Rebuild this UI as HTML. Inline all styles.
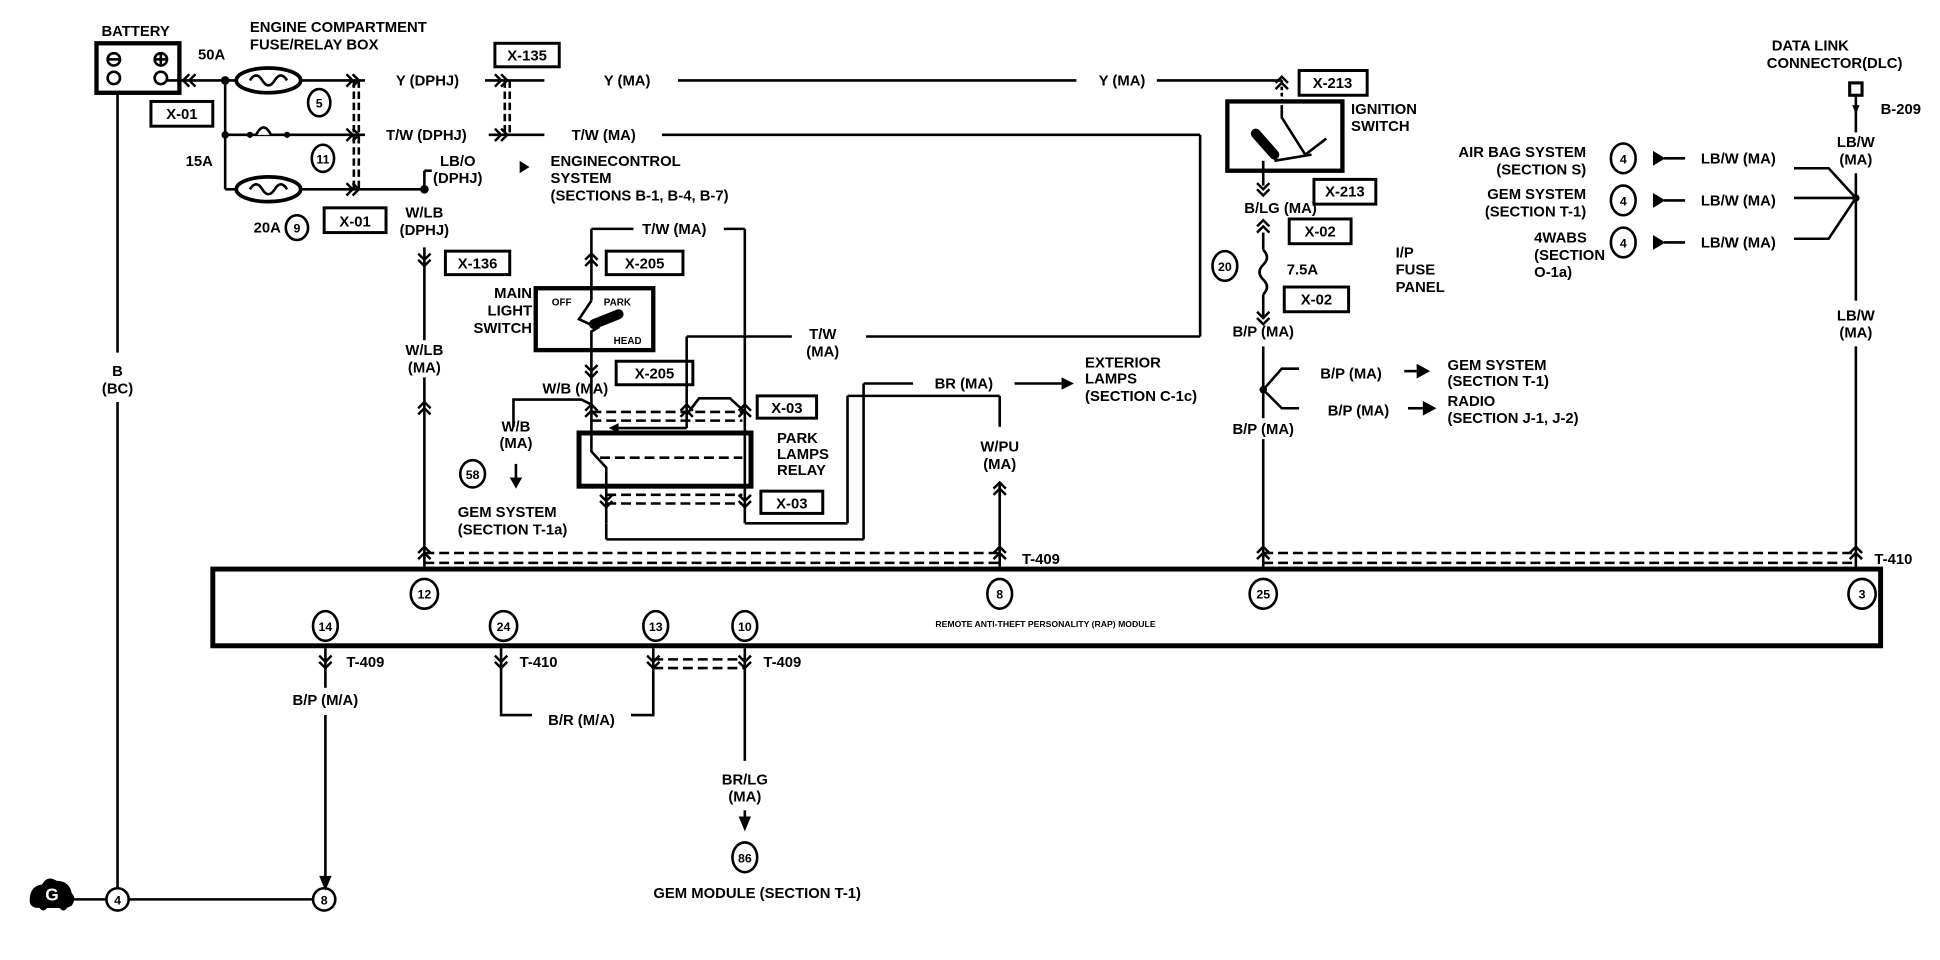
<!DOCTYPE html>
<html><head><meta charset="utf-8"><style>
html,body{margin:0;padding:0;background:#fff;}
svg{display:block;}
text{font-family:"Liberation Sans Narrow","Liberation Sans",sans-serif;font-size:12px;fill:#000;font-weight:bold;}
.c{text-anchor:middle;}
.r{text-anchor:end;}
</style></head><body>
<svg width="1940" height="960" viewBox="0 0 1568 776" preserveAspectRatio="none" xmlns="http://www.w3.org/2000/svg">
<defs>
<g id="cu" fill="none" stroke="#000" stroke-width="2"><path d="M-5 5 L0 0 L5 5 M-5 10 L0 5 L5 10"/></g>
<g id="cd" fill="none" stroke="#000" stroke-width="2"><path d="M-5 -5 L0 0 L5 -5 M-5 -10 L0 -5 L5 -10"/></g>
<g id="cr" fill="none" stroke="#000" stroke-width="2"><path d="M-5 -5 L0 0 L-5 5 M-10 -5 L-5 0 L-10 5"/></g>
<g id="cl" fill="none" stroke="#000" stroke-width="2"><path d="M5 -5 L0 0 L5 5 M10 -5 L5 0 L10 5"/></g>
</defs>
<g fill="none" stroke="#000" stroke-width="2.1">
<!-- battery -->
<rect x="78" y="35" width="67" height="40" stroke-width="3.5"/>
<circle cx="92" cy="48" r="5"/><line x1="88" y1="48" x2="96" y2="48"/>
<circle cx="130" cy="48" r="5"/><line x1="126" y1="48" x2="134" y2="48"/><line x1="130" y1="44" x2="130" y2="52"/>
<circle cx="92" cy="63" r="5"/><circle cx="130" cy="63" r="5"/>
<line x1="95" y1="75" x2="95" y2="285"/><line x1="95" y1="325" x2="95" y2="718"/>
<!-- ground -->
<line x1="50" y1="727" x2="86" y2="727"/><line x1="104" y1="727" x2="253" y2="727"/>
<circle cx="95" cy="727" r="9"/><circle cx="262" cy="727" r="9"/>
<line x1="263" y1="578" x2="263" y2="710"/>
<!-- fuse box wires -->
<line x1="135" y1="65" x2="295" y2="65"/>
<line x1="182" y1="65" x2="182" y2="153"/>
<line x1="182" y1="109" x2="295" y2="109"/>
<line x1="182" y1="153" x2="343" y2="153"/>
<ellipse cx="217" cy="65" rx="26" ry="10" stroke-width="3" fill="#fff"/>
<ellipse cx="217" cy="153" rx="26" ry="10" stroke-width="3" fill="#fff"/>
<path d="M202 65 q5 -8 10 0 q5 8 10 0 q5 -8 10 0"/>
<path d="M202 153 q5 -8 10 0 q5 8 10 0 q5 -8 10 0"/>
<path d="M207 109 q6 -12 12 0" fill="#fff"/>
<line x1="286" y1="65" x2="286" y2="153" stroke-dasharray="6 3"/>
<line x1="290" y1="65" x2="290" y2="153" stroke-dasharray="6 3"/>
<ellipse cx="258" cy="83" rx="9" ry="11"/><ellipse cx="261" cy="128" rx="9" ry="11"/><ellipse cx="240" cy="184" rx="9" ry="10"/>
<rect x="122" y="82" width="50" height="20" stroke-width="2.4"/>
<rect x="262" y="168" width="50" height="20" stroke-width="2.4"/>
<line x1="343" y1="138" x2="343" y2="153"/><line x1="343" y1="138" x2="349" y2="138"/>
<!-- Y wire -->
<line x1="392" y1="65" x2="440" y2="65"/>
<line x1="548" y1="65" x2="870" y2="65"/>
<line x1="935" y1="65" x2="1036" y2="65"/>
<line x1="1036" y1="65" x2="1036" y2="85" stroke-dasharray="3 2"/>
<rect x="400" y="35" width="52" height="19" stroke-width="2.4"/>
<line x1="408" y1="65" x2="408" y2="109" stroke-dasharray="6 3"/>
<line x1="412" y1="65" x2="412" y2="109" stroke-dasharray="6 3"/>
<!-- T/W wire -->
<line x1="395" y1="109" x2="440" y2="109"/>
<line x1="535" y1="109" x2="970" y2="109"/>
<line x1="970" y1="109" x2="970" y2="272"/>
<line x1="970" y1="272" x2="700" y2="272"/>
<line x1="640" y1="272" x2="555" y2="272"/>
<line x1="555" y1="272" x2="555" y2="346"/>
<line x1="555" y1="346" x2="500" y2="346"/>
<!-- W/LB -->
<line x1="343" y1="200" x2="343" y2="275"/>
<line x1="343" y1="305" x2="343" y2="458"/>
<rect x="360" y="203" width="52" height="19" stroke-width="2.4"/>
<!-- main light switch -->
<line x1="478" y1="185" x2="512" y2="185"/>
<line x1="585" y1="185" x2="602" y2="185"/>
<line x1="602" y1="185" x2="602" y2="405"/>
<line x1="478" y1="185" x2="478" y2="243"/>
<rect x="433" y="233" width="95" height="50" stroke-width="3.5"/>
<path d="M478 243 L468 258 L483 265 L478 268 L478 310"/>
<path d="M480 262 L500 254" stroke-width="8" stroke-linecap="round"/>
<rect x="490" y="203" width="62" height="19" stroke-width="2.4"/>
<rect x="498" y="292" width="62" height="19" stroke-width="2.4"/>
<!-- relay -->
<line x1="478" y1="310" x2="478" y2="350"/>
<path d="M415 345 L415 323 L470 323 L478 327"/>
<line x1="478" y1="333" x2="600" y2="333" stroke-dasharray="8 4"/>
<line x1="478" y1="340" x2="600" y2="340" stroke-dasharray="8 4"/>
<path d="M555 335 L565 322 L590 322 L602 333"/>
<rect x="468" y="350" width="139" height="43" stroke-width="4"/>
<path d="M478 350 L478 365 L490 378 L490 423"/>
<line x1="485" y1="370" x2="600" y2="370" stroke-dasharray="8 4"/>
<line x1="490" y1="400" x2="600" y2="400" stroke-dasharray="8 4"/>
<line x1="490" y1="407" x2="600" y2="407" stroke-dasharray="8 4"/>
<line x1="490" y1="423" x2="490" y2="436"/>
<line x1="490" y1="436" x2="698" y2="436"/>
<line x1="698" y1="436" x2="698" y2="310"/>
<line x1="698" y1="310" x2="738" y2="310"/>
<line x1="820" y1="310" x2="858" y2="310"/>
<line x1="602" y1="405" x2="602" y2="423"/>
<line x1="602" y1="423" x2="685" y2="423"/>
<line x1="685" y1="423" x2="685" y2="320"/>
<line x1="685" y1="320" x2="808" y2="320"/>
<line x1="808" y1="320" x2="808" y2="345"/>
<line x1="808" y1="390" x2="808" y2="458"/>
<rect x="612" y="320" width="48" height="18" stroke-width="2.4"/>
<rect x="615" y="397" width="50" height="18" stroke-width="2.4"/>
<line x1="417" y1="375" x2="417" y2="388"/>
<ellipse cx="382" cy="383" rx="10" ry="11"/>
<!-- T-409 / T-410 dashed -->
<line x1="343" y1="447" x2="808" y2="447" stroke-dasharray="8 4"/>
<line x1="343" y1="455" x2="808" y2="455" stroke-dasharray="8 4"/>
<line x1="1021" y1="447" x2="1500" y2="447" stroke-dasharray="8 4"/>
<line x1="1021" y1="455" x2="1500" y2="455" stroke-dasharray="8 4"/>
<!-- module -->
<rect x="172" y="460" width="1348" height="62" stroke-width="4"/>
<ellipse cx="343" cy="480" rx="11" ry="12"/><ellipse cx="808" cy="480" rx="10" ry="12"/>
<ellipse cx="1021" cy="480" rx="11" ry="12"/><ellipse cx="1505" cy="480" rx="11" ry="12"/>
<ellipse cx="263" cy="506" rx="10" ry="12"/><ellipse cx="407" cy="506" rx="11" ry="12"/>
<ellipse cx="530" cy="506" rx="10" ry="12"/><ellipse cx="602" cy="506" rx="10" ry="12"/>
<!-- below module -->
<line x1="263" y1="524" x2="263" y2="556"/>
<path d="M405 524 L405 578 L430 578"/>
<path d="M510 578 L528 578 L528 524"/>
<line x1="528" y1="533" x2="602" y2="533" stroke-dasharray="8 4"/>
<line x1="528" y1="540" x2="602" y2="540" stroke-dasharray="8 4"/>
<line x1="602" y1="524" x2="602" y2="615"/>
<line x1="602" y1="655" x2="602" y2="662"/>
<ellipse cx="602" cy="693" rx="10" ry="12"/>
<!-- ignition -->
<rect x="992" y="82" width="93" height="56" stroke-width="3.5"/>
<path d="M1036 85 L1036 95 L1055 125 L1072 112"/>
<path d="M1015 108 L1030 125" stroke-width="8" stroke-linecap="round"/>
<path d="M1030 130 L1060 125"/>
<path d="M1021 130 L1021 150"/>
<rect x="1050" y="57" width="55" height="20" stroke-width="2.4"/>
<rect x="1062" y="145" width="50" height="20" stroke-width="2.4"/>
<rect x="1042" y="177" width="50" height="20" stroke-width="2.4"/>
<rect x="1038" y="232" width="52" height="20" stroke-width="2.4"/>
<line x1="1021" y1="188" x2="1021" y2="202"/>
<path d="M1021 202 q6 6 0 12 q-6 6 0 12 q6 6 0 12"/>
<line x1="1021" y1="238" x2="1021" y2="258"/>
<ellipse cx="990" cy="215" rx="10" ry="12"/>
<line x1="1021" y1="280" x2="1021" y2="338"/>
<line x1="1021" y1="355" x2="1021" y2="458"/>
<path d="M1050 298 L1036 298 L1021 315 L1036 330 L1050 330"/>
<line x1="1135" y1="300" x2="1145" y2="300"/>
<line x1="1138" y1="330" x2="1150" y2="330"/>
<!-- DLC -->
<rect x="1495" y="67" width="10" height="10" stroke-width="2.5"/>
<line x1="1500" y1="77" x2="1500" y2="107"/>
<line x1="1500" y1="140" x2="1500" y2="243"/>
<line x1="1500" y1="280" x2="1500" y2="458"/>
<path d="M1450 136 L1478 136 L1500 160 L1478 193 L1450 193"/>
<line x1="1450" y1="160" x2="1500" y2="160"/>
<line x1="1345" y1="128" x2="1362" y2="128"/>
<line x1="1345" y1="162" x2="1362" y2="162"/>
<line x1="1345" y1="196" x2="1362" y2="196"/>
<ellipse cx="1312" cy="128" rx="10" ry="12"/><ellipse cx="1312" cy="162" rx="10" ry="12"/><ellipse cx="1312" cy="196" rx="10" ry="12"/>
</g>
<g fill="#000">
<circle cx="182" cy="65" r="3.5"/><circle cx="182" cy="109" r="3"/><circle cx="202" cy="109" r="2.5"/><circle cx="232" cy="109" r="2.5"/>
<circle cx="343" cy="153" r="3.5"/><circle cx="1021" cy="315" r="3"/><circle cx="1500" cy="160" r="3"/>
<path d="M420 130 L428 135 L420 140Z"/>
<path d="M858 305 L868 310 L858 315Z"/>
<path d="M1145 294 L1156 300 L1145 306Z"/>
<path d="M1150 324 L1161 330 L1150 336Z"/>
<path d="M412 386 L417 395 L422 386Z"/>
<path d="M597 660 L602 672 L607 660Z"/>
<path d="M258 708 L263 720 L268 708Z"/>
<path d="M500 342 L492 346 L500 350Z"/>
<path d="M1336 122 L1346 128 L1336 134Z"/><path d="M1336 156 L1346 162 L1336 168Z"/><path d="M1336 190 L1346 196 L1336 202Z"/>
<path d="M1497 85 L1500 92 L1503 85Z"/>
<path d="M24 728 q0 -12 10 -13 q4 -8 12 -3 q10 0 12 10 q4 4 0 10 l-4 2 q-2 4 -6 0 l-10 0 q-3 4 -6 0 q-8 0 -8 -6Z"/>
</g>
<use href="#cl" x="148" y="65"/>
<use href="#cr" x="290" y="65"/><use href="#cr" x="290" y="109"/><use href="#cr" x="290" y="153"/>
<use href="#cr" x="410" y="65"/><use href="#cr" x="410" y="109"/>
<use href="#cd" x="343" y="215"/><use href="#cu" x="343" y="325"/><use href="#cu" x="343" y="442"/>
<use href="#cu" x="478" y="205"/><use href="#cd" x="478" y="305"/>
<use href="#cu" x="478" y="327"/><use href="#cu" x="555" y="327"/><use href="#cu" x="602" y="327"/>
<use href="#cd" x="490" y="410"/><use href="#cd" x="602" y="410"/>
<use href="#cu" x="808" y="390"/><use href="#cu" x="808" y="442"/>
<use href="#cu" x="1021" y="442"/><use href="#cu" x="1500" y="442"/>
<use href="#cd" x="263" y="540"/><use href="#cd" x="405" y="540"/><use href="#cd" x="528" y="540"/><use href="#cd" x="602" y="540"/>
<use href="#cd" x="1021" y="158"/><use href="#cu" x="1021" y="178"/><use href="#cd" x="1021" y="262"/>
<use href="#cu" x="1036" y="62"/>

<text x="82" y="29">BATTERY</text>
<text x="202" y="26">ENGINE COMPARTMENT</text>
<text x="202" y="40">FUSE/RELAY BOX</text>
<text x="160" y="48">50A</text>
<text x="147" y="96" class="c">X-01</text>
<text x="150" y="134">15A</text>
<text x="205" y="188">20A</text>
<text x="287" y="183" class="c">X-01</text>
<text x="258" y="87" class="c" style="font-size:10px">5</text>
<text x="261" y="132" class="c" style="font-size:10px">11</text>
<text x="240" y="188" class="c" style="font-size:10px">9</text>
<text x="95" y="304" class="c">B</text><text x="95" y="318" class="c">(BC)</text>
<text x="320" y="69">Y (DPHJ)</text>
<text x="426" y="49" class="c">X-135</text>
<text x="488" y="69">Y (MA)</text>
<text x="888" y="69">Y (MA)</text>
<text x="312" y="113">T/W (DPHJ)</text>
<text x="462" y="113">T/W (MA)</text>
<text x="370" y="134" class="c">LB/O</text><text x="370" y="148" class="c">(DPHJ)</text>
<text x="445" y="134">ENGINECONTROL</text>
<text x="445" y="148">SYSTEM</text>
<text x="445" y="162">(SECTIONS B-1, B-4, B-7)</text>
<text x="343" y="176" class="c">W/LB</text><text x="343" y="190" class="c">(DPHJ)</text>
<text x="386" y="217" class="c">X-136</text>
<text x="343" y="287" class="c">W/LB</text><text x="343" y="301" class="c">(MA)</text>
<text x="545" y="189" class="c">T/W (MA)</text>
<text x="521" y="217" class="c">X-205</text>
<text x="430" y="241" class="r">MAIN</text><text x="430" y="255" class="r">LIGHT</text><text x="430" y="269" class="r">SWITCH</text>
<text x="446" y="247" style="font-size:8px">OFF</text>
<text x="488" y="247" style="font-size:8px">PARK</text>
<text x="496" y="278" style="font-size:8px">HEAD</text>
<text x="529" y="306" class="c">X-205</text>
<text x="465" y="318" class="c">W/B (MA)</text>
<text x="665" y="274" class="c">T/W</text><text x="665" y="288" class="c">(MA)</text>
<text x="779" y="314" class="c">BR (MA)</text>
<text x="877" y="297">EXTERIOR</text><text x="877" y="310">LAMPS</text><text x="877" y="324">(SECTION C-1c)</text>
<text x="417" y="349" class="c">W/B</text><text x="417" y="362" class="c">(MA)</text>
<text x="382" y="387" class="c" style="font-size:10px">58</text>
<text x="370" y="418">GEM SYSTEM</text><text x="370" y="432">(SECTION T-1a)</text>
<text x="636" y="334" class="c">X-03</text>
<text x="628" y="358">PARK</text><text x="628" y="371">LAMPS</text><text x="628" y="384">RELAY</text>
<text x="640" y="411" class="c">X-03</text>
<text x="808" y="365" class="c">W/PU</text><text x="808" y="379" class="c">(MA)</text>
<text x="826" y="456">T-409</text>
<text x="1515" y="456">T-410</text>
<text x="343" y="484" class="c" style="font-size:10px">12</text>
<text x="808" y="484" class="c" style="font-size:10px">8</text>
<text x="1021" y="484" class="c" style="font-size:10px">25</text>
<text x="1505" y="484" class="c" style="font-size:10px">3</text>
<text x="263" y="510" class="c" style="font-size:10px">14</text>
<text x="407" y="510" class="c" style="font-size:10px">24</text>
<text x="530" y="510" class="c" style="font-size:10px">13</text>
<text x="602" y="510" class="c" style="font-size:10px">10</text>
<text x="845" y="507" class="c" style="font-size:7px">REMOTE ANTI-THEFT PERSONALITY (RAP) MODULE</text>
<text x="280" y="539">T-409</text>
<text x="420" y="539">T-410</text>
<text x="617" y="539">T-409</text>
<text x="263" y="570" class="c">B/P (M/A)</text>
<text x="470" y="586" class="c">B/R (M/A)</text>
<text x="602" y="634" class="c">BR/LG</text><text x="602" y="648" class="c">(MA)</text>
<text x="602" y="697" class="c" style="font-size:10px">86</text>
<text x="612" y="726" class="c">GEM MODULE (SECTION T-1)</text>
<text x="95" y="731" class="c" style="font-size:10px">4</text>
<text x="262" y="731" class="c" style="font-size:10px">8</text>
<text x="42" y="728" class="c" style="font-size:14px;fill:#fff">G</text>
<text x="1077" y="71" class="c">X-213</text>
<text x="1092" y="92">IGNITION</text><text x="1092" y="106">SWITCH</text>
<text x="1087" y="159" class="c">X-213</text>
<text x="1035" y="172" class="c">B/LG (MA)</text>
<text x="1067" y="191" class="c">X-02</text>
<text x="990" y="219" class="c" style="font-size:10px">20</text>
<text x="1040" y="222">7.5A</text>
<text x="1128" y="208">I/P</text><text x="1128" y="222">FUSE</text><text x="1128" y="236">PANEL</text>
<text x="1064" y="246" class="c">X-02</text>
<text x="1021" y="272" class="c">B/P (MA)</text>
<text x="1092" y="306" class="c">B/P (MA)</text>
<text x="1098" y="336" class="c">B/P (MA)</text>
<text x="1170" y="299">GEM SYSTEM</text><text x="1170" y="312">(SECTION T-1)</text>
<text x="1170" y="328">RADIO</text><text x="1170" y="342">(SECTION J-1, J-2)</text>
<text x="1021" y="351" class="c">B/P (MA)</text>
<text x="1432" y="41">DATA LINK</text><text x="1428" y="55">CONNECTOR(DLC)</text>
<text x="1520" y="92">B-209</text>
<text x="1500" y="119" class="c">LB/W</text><text x="1500" y="133" class="c">(MA)</text>
<text x="1282" y="127" class="r">AIR BAG SYSTEM</text><text x="1282" y="141" class="r">(SECTION S)</text>
<text x="1282" y="161" class="r">GEM SYSTEM</text><text x="1282" y="175" class="r">(SECTION T-1)</text>
<text x="1240" y="196">4WABS</text><text x="1240" y="210">(SECTION</text><text x="1240" y="224">O-1a)</text>
<text x="1312" y="132" class="c" style="font-size:10px">4</text>
<text x="1312" y="166" class="c" style="font-size:10px">4</text>
<text x="1312" y="200" class="c" style="font-size:10px">4</text>
<text x="1405" y="132" class="c">LB/W (MA)</text>
<text x="1405" y="166" class="c">LB/W (MA)</text>
<text x="1405" y="200" class="c">LB/W (MA)</text>
<text x="1500" y="259" class="c">LB/W</text><text x="1500" y="273" class="c">(MA)</text>
</svg>
</body></html>
